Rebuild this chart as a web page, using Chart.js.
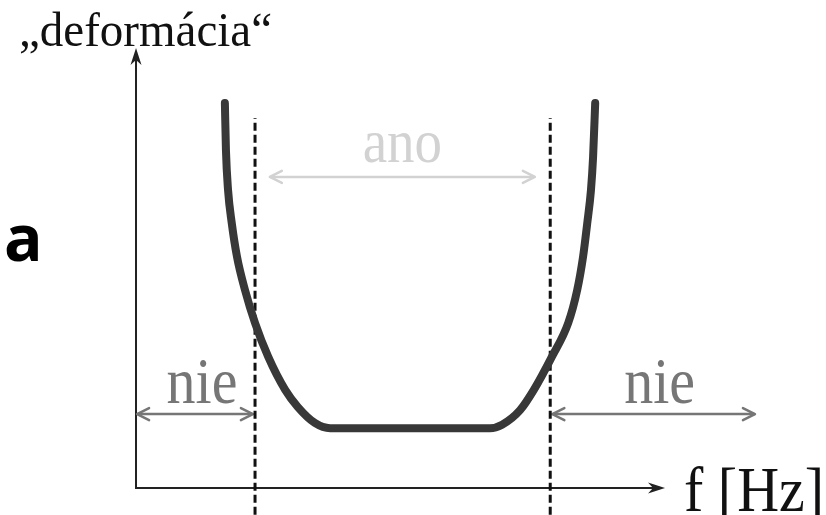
<!DOCTYPE html>
<html>
<head>
<meta charset="utf-8">
<script src="https://cdn.jsdelivr.net/npm/chart.js@4/dist/chart.umd.min.js"></script>
<style>
  html, body { margin: 0; padding: 0; background: #fff; }
  #wrap { position: relative; width: 826px; height: 515px; overflow: hidden; }
  .lbl {
    position: absolute;
    font-family: 'Liberation Serif', 'Times New Roman', serif;
    line-height: 1;
    white-space: nowrap;
  }
  #panel {
    position: absolute; left: 4px; top: 205px;
    font-family: 'Open Sans', sans-serif; font-weight: bold; font-size: 64px;
    line-height: 1; color: #000;
  }
</style>
</head>
<body>
<div id="wrap">
  <canvas id="c" width="826" height="515"></canvas>
</div>
<script>
// Frequency axis (0..100 = drawn axis length) and "deformation" axis (0..100)
const curveF = [16.8, 17.0, 17.4, 18.1, 19.1, 20.6, 22.5, 25.0, 28.2, 30.6, 33.8, 36.7,
                66.9, 69.2, 72.6, 75.2, 78.6, 81.7, 83.4, 84.5, 85.3, 86.0, 86.4, 86.8];
const curveD = [87.5, 76.8, 67.7, 60.2, 52.5, 45.0, 37.5, 29.8, 22.3, 18.4, 14.8, 13.6,
                13.6, 14.4, 17.7, 22.3, 29.8, 37.5, 45.0, 52.5, 60.2, 67.7, 75.2, 87.5];

// Limits of the usable band (dashed verticals)
const limitF = [22.5, 78.3];
const limitTop = 84.1;
const limitBottom = -6.1;

// Range arrows: label, from, to, height, label baseline height
const rangeLabels = ["ano", "nie", "nie"];
const rangeFrom   = [25.3, 0.2, 78.7];
const rangeTo     = [75.4, 22.1, 117.0];
const rangeLevel  = [70.7, 16.8, 16.8];
const rangeText   = [74.1, 19.3, 19.3];
const rangeColor  = ["#d2d2d2", "#767676", "#767676"];

const yTitle = "\u201Edeformácia\u201C";
const xTitle = "f [Hz]";
const panelLetter = "a";

const BASE = 0.8375;   // baseline offset of Liberation Serif in a line-height:1 box (em)

const curve = curveF.map((f, i) => ({ x: f, y: curveD[i] }));
const limitSets = limitF.map(f => ({
  data: [{ x: f, y: limitBottom }, { x: f, y: limitTop }],
  borderColor: "#111",
  borderWidth: 3,
  borderDash: [8, 4],
  pointRadius: 0,
  showLine: true,
  clip: false
}));

function openHead(ctx, x, y, dir, len, half) {
  ctx.beginPath();
  ctx.moveTo(x - dir * len, y - half);
  ctx.lineTo(x, y);
  ctx.lineTo(x - dir * len, y + half);
  ctx.stroke();
}

// HTML text label placed by its baseline
const wrap = document.getElementById("wrap");
function makeLabel(txt, size, color, sy, centered) {
  const el = document.createElement("div");
  el.className = "lbl";
  el.textContent = txt;
  el.style.fontSize = size + "px";
  el.style.color = color;
  el.style.transformOrigin = "0 " + (BASE * size) + "px";
  el.style.transform = (centered ? "translateX(-50%) " : "") + "scaleY(" + sy + ")";
  wrap.appendChild(el);
  return { el, size };
}
function place(lbl, x, baseline) {
  lbl.el.style.left = x + "px";
  lbl.el.style.top = (baseline - BASE * lbl.size) + "px";
}

const rangeEls = rangeLabels.map((lab, i) =>
  makeLabel(lab, i === 0 ? 55 : 58, rangeColor[i], 1.12, true));
const yTitleEl = makeLabel(yTitle, 47, "#111", 1.05, false);
const xTitleEl = makeLabel(xTitle, 58, "#111", 1.1, false);
const panelEl = document.createElement("div");
panelEl.id = "panel";
panelEl.textContent = panelLetter;
wrap.appendChild(panelEl);

// Axes with arrowheads and the range arrows, underneath the curve
const axesPlugin = {
  id: "axesPlugin",
  beforeDatasetsDraw(chart) {
    const ctx = chart.ctx;
    const xs = chart.scales.x, ys = chart.scales.y;
    const x0 = xs.getPixelForValue(0), y0 = ys.getPixelForValue(0);
    const xEnd = xs.getPixelForValue(100), yEnd = ys.getPixelForValue(100);
    ctx.save();
    ctx.strokeStyle = "#222";
    ctx.fillStyle = "#222";
    ctx.lineWidth = 2;
    ctx.beginPath();
    ctx.moveTo(x0, y0 + 1);
    ctx.lineTo(x0, yEnd + 8);
    ctx.moveTo(x0 - 1, y0);
    ctx.lineTo(xEnd - 8, y0);
    ctx.stroke();
    ctx.beginPath();
    ctx.moveTo(x0, yEnd);
    ctx.lineTo(x0 - 5.5, yEnd + 17);
    ctx.lineTo(x0, yEnd + 12);
    ctx.lineTo(x0 + 5.5, yEnd + 17);
    ctx.closePath();
    ctx.fill();
    ctx.beginPath();
    ctx.moveTo(xEnd, y0);
    ctx.lineTo(xEnd - 17, y0 - 5.5);
    ctx.lineTo(xEnd - 12, y0);
    ctx.lineTo(xEnd - 17, y0 + 5.5);
    ctx.closePath();
    ctx.fill();

    rangeLabels.forEach((lab, i) => {
      const a = xs.getPixelForValue(rangeFrom[i]);
      const b = xs.getPixelForValue(rangeTo[i]);
      const y = ys.getPixelForValue(rangeLevel[i]);
      ctx.strokeStyle = rangeColor[i];
      ctx.lineWidth = 2.5;
      ctx.lineCap = "round";
      ctx.lineJoin = "round";
      ctx.beginPath();
      ctx.moveTo(a + 1, y);
      ctx.lineTo(b - 1, y);
      ctx.stroke();
      openHead(ctx, a, y, -1, 12, 6);
      openHead(ctx, b, y, 1, 12, 6);
    });
    ctx.restore();
  },
  afterDraw(chart) {
    const xs = chart.scales.x, ys = chart.scales.y;
    const x0 = xs.getPixelForValue(0), y0 = ys.getPixelForValue(0);
    const xEnd = xs.getPixelForValue(100), yEnd = ys.getPixelForValue(100);
    rangeEls.forEach((lbl, i) => {
      const a = xs.getPixelForValue(rangeFrom[i]);
      const b = xs.getPixelForValue(rangeTo[i]);
      const shift = i === 0 ? 0 : (i === 1 ? 7 : 6);
      place(lbl, (a + b) / 2 + shift, ys.getPixelForValue(rangeText[i]));
    });
    place(yTitleEl, x0 - 117, yEnd - 2);
    place(xTitleEl, xEnd + 19, y0 + 24);
  }
};

new Chart(document.getElementById("c"), {
  type: "scatter",
  data: {
    datasets: [
      {
        data: curve,
        showLine: true,
        borderColor: "#383838",
        borderWidth: 8,
        borderCapStyle: "round",
        borderJoinStyle: "round",
        cubicInterpolationMode: "monotone",
        pointRadius: 0,
        clip: false
      },
      ...limitSets
    ]
  },
  options: {
    responsive: false,
    animation: false,
    events: [],
    layout: { padding: 0 },
    plugins: { legend: { display: false }, tooltip: { enabled: false } },
    scales: {
      x: { type: "linear", display: false, min: -25.71, max: 130.43 },
      y: { type: "linear", display: false, min: -6.136, max: 110.909 }
    }
  },
  plugins: [axesPlugin]
});
</script>
</body>
</html>
